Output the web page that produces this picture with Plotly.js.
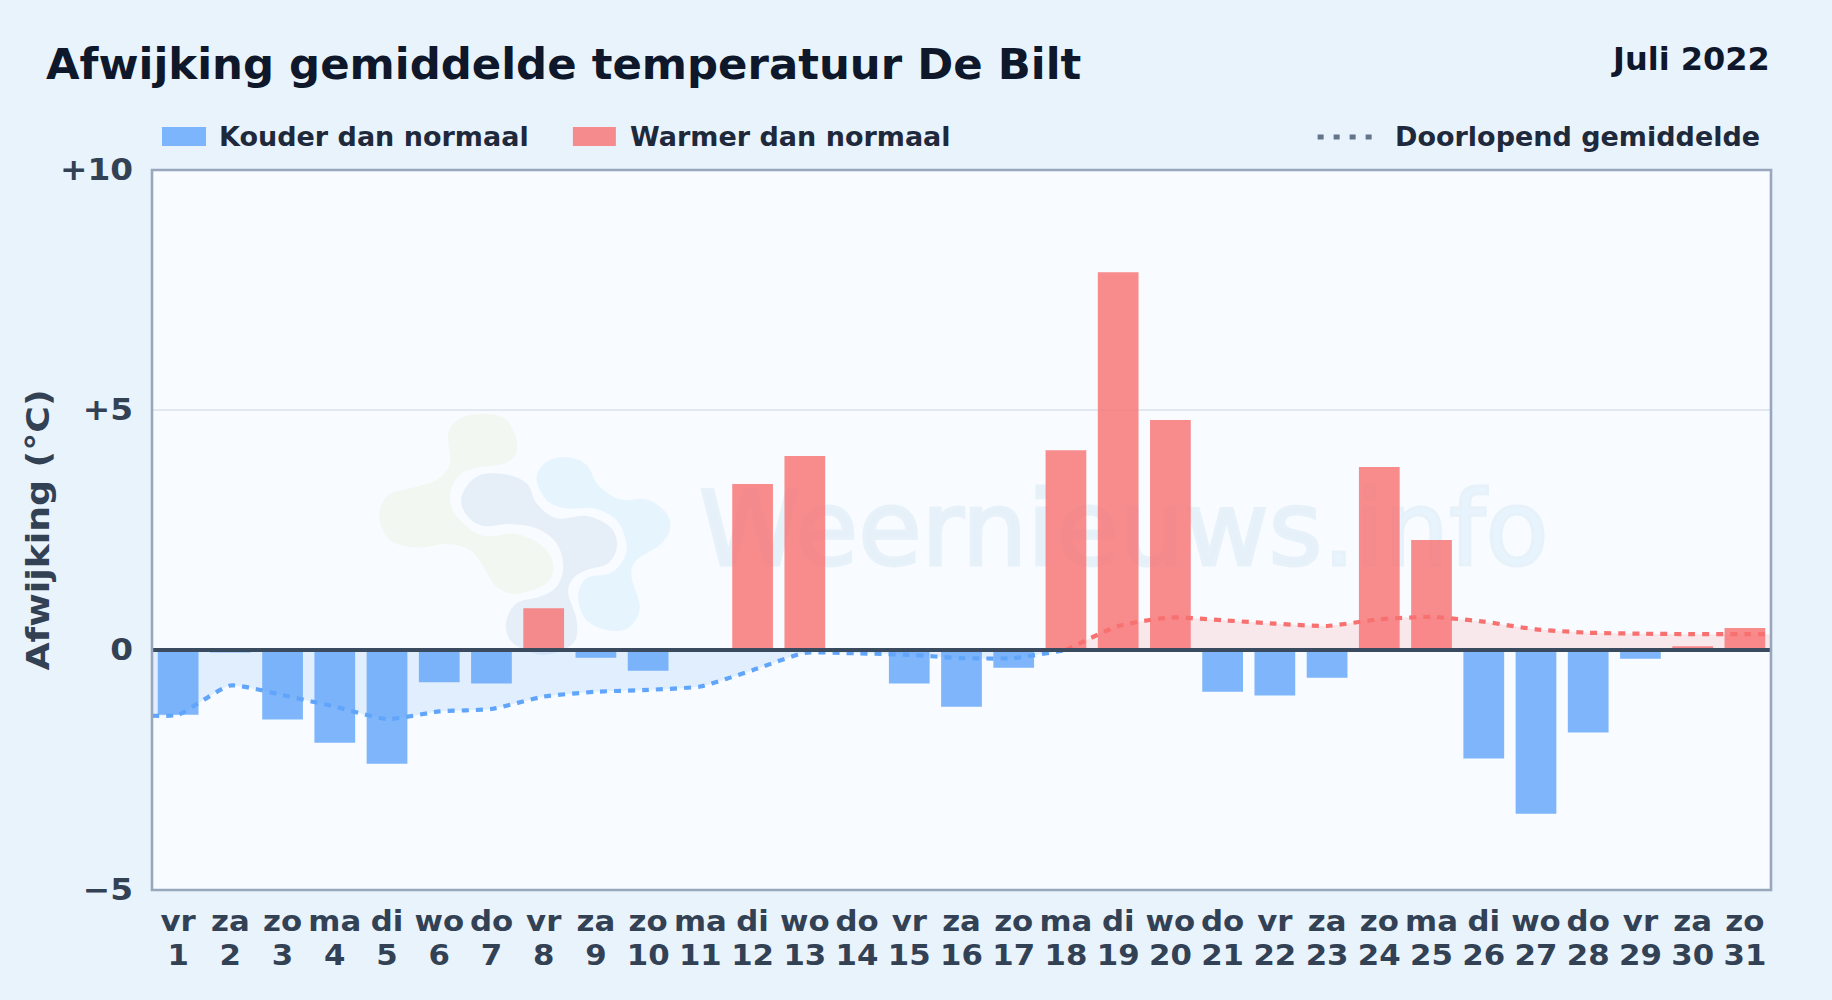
<!DOCTYPE html>
<html lang="nl">
<head>
<meta charset="utf-8">
<title>Afwijking gemiddelde temperatuur De Bilt</title>
<script src="https://cdn.plot.ly/plotly-3.0.1.min.js"></script>
<style>
html,body{margin:0;padding:0;background:#e9f3fc;overflow:hidden}
#chart{width:1832px;height:1000px}
</style>
</head>
<body>
<div id="chart"></div>
<script>
const weekdays = ['vr','za','zo','ma','di','wo','do','vr','za','zo','ma','di','wo','do','vr','za','zo','ma','di','wo','do','vr','za','zo','ma','di','wo','do','vr','za','zo'];
const days = [1,2,3,4,5,6,7,8,9,10,11,12,13,14,15,16,17,18,19,20,21,22,23,24,25,26,27,28,29,30,31];
const deviations = [-1.35,-0.05,-1.45,-1.93,-2.37,-0.67,-0.70,0.87,-0.16,-0.43,0,3.46,4.04,0,-0.70,-1.18,-0.37,4.16,7.87,4.79,-0.87,-0.95,-0.58,3.81,2.29,-2.26,-3.41,-1.72,-0.18,0.08,0.46];
const coldLineDays = [0.5,1,2,3,4,5,6,7,8,9,10,11,12,13,14,15,16,17,18];
const coldLineValues = [-1.37,-1.35,-0.74,-0.94,-1.18,-1.44,-1.28,-1.23,-0.97,-0.87,-0.83,-0.76,-0.42,-0.06,-0.07,-0.10,-0.17,-0.17,0];
const warmLineDays = [18,19,20,21,22,23,24,25,26,27,28,29,30,31,31.5];
const warmLineValues = [0,0.50,0.68,0.62,0.55,0.50,0.64,0.69,0.59,0.43,0.36,0.34,0.33,0.33,0.33];
const yTickValues = [-5,0,5,10];
const yTickLabels = ['\u22125','0','+5','+10'];

const W = 1832, H = 1000;
const M = {l:152, r:60.5, t:170, b:110};
const FONT = '"DejaVu Sans", sans-serif';
const TEXT = '#1e293b', TICK = '#334155';
const BLUE = 'rgba(96,165,250,0.8)', RED = 'rgba(248,113,113,0.8)';
const SMOOTH = 0.5;
const px = x => (x - M.l) / (W - M.l - M.r);
const py = y => 1 - (y - M.t) / (H - M.t - M.b);

function smooth(p){
  const n = p.length; let d = `M${p[0][0]} ${p[0][1]}`;
  for(let i=0;i<n;i++){
    const a=p[(i-1+n)%n],b=p[i],c=p[(i+1)%n],e=p[(i+2)%n];
    d += `C${b[0]+(c[0]-a[0])/6} ${b[1]+(c[1]-a[1])/6} ${c[0]-(e[0]-b[0])/6} ${c[1]-(e[1]-b[1])/6} ${c[0]} ${c[1]}`;
  }
  return d+'Z';
}
const blobGreen = [[265,130],[300,85],[370,72],[440,90],[473,170],[440,218],[340,235],[290,265],[270,330],[300,390],[370,437],[470,432],[550,470],[580,525],[560,580],[470,612],[410,590],[370,530],[330,480],[260,462],[170,473],[90,450],[58,380],[85,315],[170,290],[230,270],[270,220]];
const blobMid = [[305,320],[350,260],[430,252],[500,280],[530,340],[590,385],[680,378],[750,410],[772,465],[745,520],[680,540],[640,565],[625,610],[650,690],[640,760],[550,795],[460,760],[438,700],[470,640],[540,620],[590,590],[610,530],[590,460],[530,415],[450,402],[370,408],[320,375]];
const blobSky = [[530,265],[560,215],[620,202],[680,225],[715,285],[780,328],[860,328],[920,370],[930,420],[900,465],[830,510],[815,560],[840,650],[810,710],[750,722],[680,690],[655,620],[680,565],[750,550],[790,510],[800,460],[770,390],[700,355],[620,355],[560,330]];
const logoSvg = `<svg xmlns="http://www.w3.org/2000/svg" width="1020" height="840" viewBox="0 0 1020 840"><path d="${smooth(blobGreen)}" fill="#f2f8f1"/><path d="${smooth(blobMid)}" fill="#e6eef8"/><path d="${smooth(blobSky)}" fill="#e6f4fe"/></svg>`;

const isCold = v => v < 0, isWarm = v => v > 0;
const traces = [
  {type:'scatter',mode:'none',x:coldLineDays,y:coldLineValues,fill:'tozeroy',fillcolor:'rgba(96,165,250,0.15)',line:{shape:'spline',smoothing:SMOOTH},hoverinfo:'skip',showlegend:false},
  {type:'scatter',mode:'none',x:warmLineDays,y:warmLineValues,fill:'tozeroy',fillcolor:'rgba(248,113,113,0.14)',line:{shape:'spline',smoothing:SMOOTH},hoverinfo:'skip',showlegend:false},
  {type:'bar',name:'Kouder dan normaal',x:days.filter((d,i)=>isCold(deviations[i])),y:deviations.filter(isCold),width:0.78,marker:{color:BLUE},hoverinfo:'skip',showlegend:false},
  {type:'bar',name:'Warmer dan normaal',x:days.filter((d,i)=>isWarm(deviations[i])),y:deviations.filter(isWarm),width:0.78,marker:{color:RED},hoverinfo:'skip',showlegend:false},
  {type:'scatter',mode:'lines',xaxis:'x2',name:'Doorlopend gemiddelde',x:coldLineDays,y:coldLineValues,line:{color:'#60a5fa',width:4.2,dash:'7px,7px',shape:'spline',smoothing:SMOOTH},hoverinfo:'skip',showlegend:false},
  {type:'scatter',mode:'lines',xaxis:'x2',name:'Doorlopend gemiddelde',x:warmLineDays,y:warmLineValues,line:{color:'#f87171',width:4.2,dash:'7px,7px',shape:'spline',smoothing:SMOOTH},hoverinfo:'skip',showlegend:false}
];

function label(text,x,y,size,color,anchor){
  return {text,xref:'paper',yref:'paper',x:px(x),y:py(y),xanchor:anchor||'left',yanchor:'middle',showarrow:false,borderpad:0,font:{family:FONT,size,color,weight:700}};
}
const tickFontX = {family:FONT,size:27.5,color:TICK,weight:700};
const layout = {
  width:W,height:H,margin:M,
  paper_bgcolor:'#e9f3fc',plot_bgcolor:'#f8fbff',
  font:{family:FONT},
  barmode:'overlay',showlegend:false,
  title:{text:'Afwijking gemiddelde temperatuur De Bilt',x:46/W,xanchor:'left',y:1-64/H,yanchor:'middle',font:{family:FONT,size:43.4,color:'#0f172a',weight:700}},
  xaxis:{range:[0.5,31.5],tickmode:'array',tickvals:days,ticktext:weekdays,ticks:'',tickangle:0,ticklabelstandoff:12,showgrid:false,zeroline:false,showline:false,tickfont:tickFontX,automargin:false},
  xaxis2:{overlaying:'x',anchor:'y',side:'bottom',range:[0.5,31.5],tickmode:'array',tickvals:days,ticktext:days.map(String),ticks:'',tickangle:0,ticklabelstandoff:46,showgrid:false,zeroline:false,showline:false,tickfont:tickFontX,automargin:false},
  yaxis:{range:[-5,10],tickmode:'array',tickvals:yTickValues,ticktext:yTickLabels,ticks:'',ticklabelstandoff:18,showgrid:true,gridcolor:'#e2e8f0',gridwidth:2,zeroline:false,showline:false,tickfont:{family:FONT,size:29.5,color:TICK,weight:700},title:{text:'Afwijking (\u00b0C)',standoff:7.5,font:{family:FONT,size:32,color:TICK,weight:700}},automargin:false},
  images:[{source:'data:image/svg+xml;base64,'+btoa(logoSvg),xref:'paper',yref:'paper',x:px(360),y:py(390),sizex:340/(W-M.l-M.r),sizey:280/(H-M.t-M.b),xanchor:'left',yanchor:'top',sizing:'stretch',layer:'below'}],
  shapes:[
    {type:'rect',xref:'paper',yref:'paper',x0:px(702),x1:px(1546),y0:py(437),y1:py(607),line:{width:0},fillcolor:'rgba(0,0,0,0)',layer:'below',label:{text:'Weernieuws<span style="color:#e8f4fd">.info</span>',textposition:'middle center',font:{family:FONT,size:103,color:'#e6f0f8'}}},
    {type:'line',xref:'paper',x0:0,x1:1,yref:'y',y0:0,y1:0,line:{color:'#3a4a5f',width:4},layer:'above'},
    {type:'rect',xref:'paper',yref:'paper',x0:0,x1:1,y0:0,y1:1,line:{color:'#98a7bb',width:2.6},fillcolor:'rgba(0,0,0,0)',layer:'above'},
    {type:'rect',xref:'paper',yref:'paper',x0:px(162),x1:px(206),y0:py(127),y1:py(146),line:{width:0},fillcolor:BLUE,layer:'above'},
    {type:'rect',xref:'paper',yref:'paper',x0:px(573),x1:px(616),y0:py(127),y1:py(146),line:{width:0},fillcolor:RED,layer:'above'},
    {type:'line',xref:'paper',yref:'paper',x0:px(1318),x1:px(1373),y0:py(137),y1:py(137),line:{color:'#64748b',width:5,dash:'6px,10px'},layer:'above'}
  ],
  annotations:[
    label('Juli 2022',1771.5,59,32,'#0f172a','right'),
    label('Kouder dan normaal',218,137,27,TEXT),
    label('Warmer dan normaal',629,137,27,TEXT),
    label('Doorlopend gemiddelde',1394,137,27,TEXT)
  ]
};
function stretch(selector,factor){
  document.querySelectorAll(selector).forEach(t=>{
    t.setAttribute('textLength',t.getComputedTextLength()*factor);
    t.setAttribute('lengthAdjust','spacingAndGlyphs');
  });
}
Plotly.newPlot('chart',traces,layout,{displayModeBar:false,staticPlot:true}).then(()=>{
  stretch('.xtick text',1.12);
  stretch('.x2tick text',1.12);
  stretch('.ytick text',1.11);
  stretch('.ytitle',1.133);
  document.querySelectorAll('.shape-label').forEach(t=>{t.style.stroke='#e7f1f9';t.style.strokeWidth='3px';});
});
</script>
</body>
</html>
